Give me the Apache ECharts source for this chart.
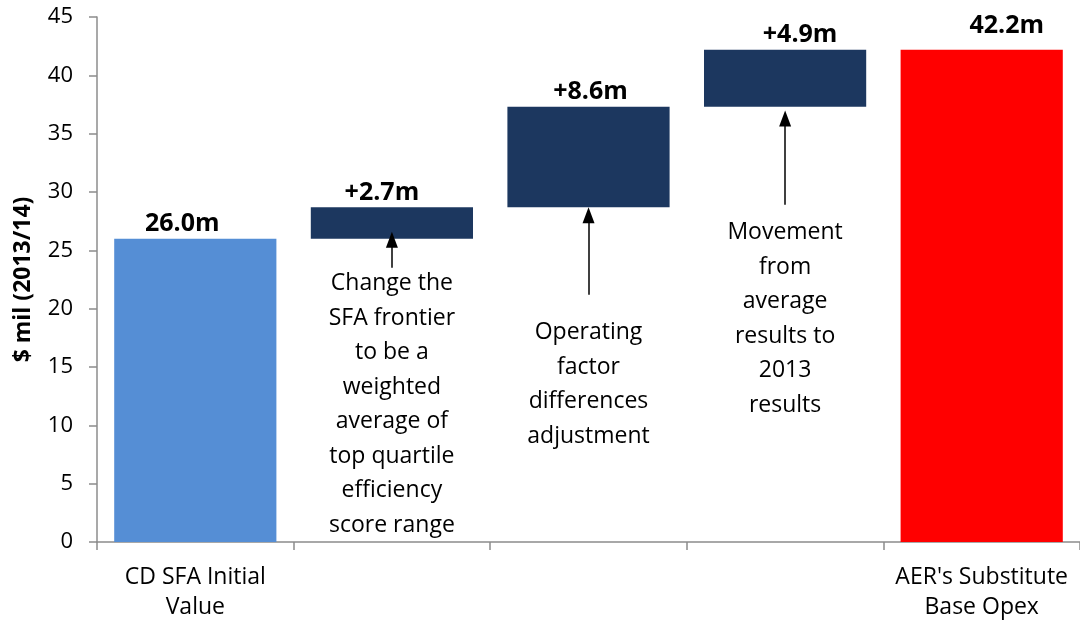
<!DOCTYPE html>
<html>
<head>
<meta charset="utf-8">
<script src="https://cdn.jsdelivr.net/npm/echarts@6/dist/echarts.min.js"></script>
<style>
  html, body { margin: 0; padding: 0; background: #fff; }
  #chart { width: 1080px; height: 622px; }
</style>
</head>
<body>
<div id="chart"></div>
<script>
// categories on the x axis (middle steps carry no label)
var categories = ['CD SFA Initial\nValue', '', '', '', "AER's Substitute\nBase Opex"];
// invisible base of each waterfall step
var baseValues = [0, 26.0, 28.7, 37.3, 0];
// visible part of each step
var stepValues = [26.0, 2.7, 8.6, 4.9, 42.2];
var stepLabels = ['26.0m', '+2.7m', '+8.6m', '+4.9m', '42.2m'];
var yTicks = [0, 5, 10, 15, 20, 25, 30, 35, 40, 45];

// notes under steps 2-4: [category index, arrow bottom, arrow top, text top, text]
var notes = [
  [1, 23.5, 25.9, 23.6, 'Change the\nSFA frontier\nto be a\nweighted\naverage of\ntop quartile\nefficiency\nscore range'],
  [2, 21.2, 28.0, 19.4, 'Operating\nfactor\ndifferences\nadjustment'],
  [3, 28.9, 36.3, 28.0, 'Movement\nfrom\naverage\nresults to\n2013\nresults']
];

var colors = ['#558ED5', '#1C375F', '#1C375F', '#1C375F', '#FF0000'];
// hand placed label nudges, like the original
var labelOffsets = [[-13, 0], [-10, 0], [2, 0], [15, 0], [25, -9]];
var font = 'Open Sans';

var chart = echarts.init(document.getElementById('chart'));
chart.setOption({
  animation: false,
  grid: { left: 97, top: 17, width: 987, bottom: 80 },
  xAxis: {
    type: 'category',
    data: categories,
    axisLine: { lineStyle: { color: '#8C8C8C', width: 1.5 } },
    axisTick: { show: true, length: 8, lineStyle: { color: '#8C8C8C', width: 1.5 } },
    axisLabel: { color: '#000', fontFamily: font, fontSize: 23, lineHeight: 30, margin: 20, interval: 0 }
  },
  yAxis: {
    type: 'value',
    min: yTicks[0],
    max: yTicks[yTicks.length - 1],
    interval: 5,
    name: '$ mil (2013/14)',
    nameLocation: 'middle',
    nameGap: 62,
    nameTextStyle: { color: '#000', fontFamily: font, fontSize: 23, fontWeight: 'bold' },
    axisLine: { show: true, lineStyle: { color: '#8C8C8C', width: 1.5 } },
    axisTick: { show: true, length: 8, lineStyle: { color: '#8C8C8C', width: 1.5 } },
    axisLabel: { color: '#000', fontFamily: font, fontSize: 22, margin: 24 },
    splitLine: { show: false }
  },
  series: [
    {
      type: 'bar',
      stack: 'wf',
      silent: true,
      itemStyle: { color: 'transparent' },
      data: baseValues,
      markLine: {
        silent: true,
        symbol: ['none', 'triangle'],
        symbolSize: [12, 16],
        lineStyle: { color: '#000', width: 1.5, type: 'solid' },
        label: { show: false },
        data: notes.map(function (n) {
          return [{ coord: [n[0], n[1]] }, { coord: [n[0], n[2]] }];
        })
      },
      markPoint: {
        silent: true,
        symbol: 'rect',
        symbolSize: 0,
        label: {
          show: true,
          position: 'bottom',
          distance: 0,
          color: '#000',
          fontFamily: font,
          fontSize: 23,
          lineHeight: 34.5,
          align: 'center'
        },
        data: notes.map(function (n) {
          return { coord: [n[0], n[3]], value: n[4], label: { formatter: n[4] } };
        })
      }
    },
    {
      type: 'bar',
      stack: 'wf',
      barCategoryGap: '17.5%',
      data: stepValues.map(function (v, i) {
        return {
          value: v,
          itemStyle: { color: colors[i] },
          label: { offset: labelOffsets[i] }
        };
      }),
      label: {
        show: true,
        position: 'top',
        distance: 2,
        color: '#000',
        fontFamily: font,
        fontSize: 25,
        fontWeight: 'bold',
        formatter: function (p) { return stepLabels[p.dataIndex]; }
      }
    }
  ]
});
</script>
</body>
</html>
